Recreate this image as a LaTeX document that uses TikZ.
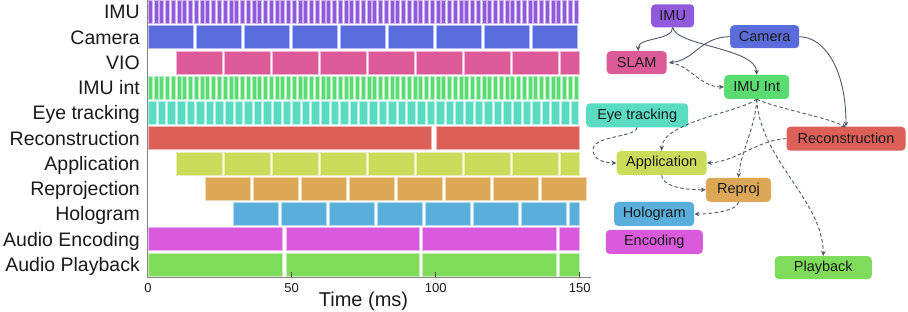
\documentclass[tikz,border=0pt]{standalone}
\usepackage{fontspec}
\setmainfont{Liberation Sans}
\usetikzlibrary{arrows.meta}
\definecolor{cimu}{HTML}{9159DB}
\definecolor{ccam}{HTML}{5A6BDB}
\definecolor{cvio}{HTML}{DC5A98}
\definecolor{cimuint}{HTML}{5ADC72}
\definecolor{ceye}{HTML}{5ADCC2}
\definecolor{crec}{HTML}{DC5F58}
\definecolor{capp}{HTML}{CBDC5A}
\definecolor{crep}{HTML}{DDA758}
\definecolor{chol}{HTML}{5AAEDC}
\definecolor{cenc}{HTML}{D95ADC}
\definecolor{cply}{HTML}{7EDC5A}
\definecolor{txt}{HTML}{1A1A1A}
\definecolor{edgec}{HTML}{4B5A6E}
\definecolor{axisc}{HTML}{858585}
\tikzset{
  tbar/.style={fill=#1, draw=#1!45!white, line width=0.7pt},
  gnode/.style={fill=#1, rounded corners=4pt, inner sep=0pt, font=\fontsize{14.5}{16}\selectfont, text=txt},
  edge/.style={draw=edgec, line width=0.9pt, -{Stealth[length=5pt,width=4.5pt]}},
  dedge/.style={edge, dash pattern=on 3.5pt off 2.5pt},
  rowlab/.style={anchor=base east, font=\fontsize{19.5}{20}\selectfont, text=txt, inner sep=0pt},
  ticklab/.style={anchor=base, font=\fontsize{13}{14}\selectfont, text=txt, inner sep=0pt},
}
\newcommand\rowbars[7]{%
  \foreach \k in {0,...,#6}{
    \pgfmathsetmacro\xa{#3+\k*#4}
    \pgfmathsetmacro\xb{min(\xa+#5,#7)}
    \pgfmathsetmacro\ya{0.5+25.25*#1}
    \draw[tbar=#2] (\xa,\ya) rectangle (\xb,\ya+23);
  }}
\newcommand\onebar[4]{% row, color, x1, x2
  \pgfmathsetmacro\ya{0.5+25.25*#1}
  \draw[tbar=#2] (#3,\ya) rectangle (#4,\ya+23);}
\begin{document}
\begin{tikzpicture}[x=1pt,y=-1pt]
\useasboundingbox (0,0) rectangle (908,312);
\fill[white] (0,0) rectangle (908,312);

% ---- chart bars
\rowbars{0}{cimu}{148.3}{5.754}{4.0}{74}{579}
\rowbars{1}{ccam}{148.3}{48}{45.5}{8}{579}
\rowbars{2}{cvio}{176.7}{48}{45.5}{8}{579}
\rowbars{3}{cimuint}{148.3}{5.754}{4.0}{74}{579}
\rowbars{4}{ceye}{148.6}{9.6}{7.6}{44}{579}
\onebar{5}{crec}{148.3}{431.7}
\onebar{5}{crec}{436}{579}
\rowbars{6}{capp}{176.7}{48}{45.5}{8}{579}
\rowbars{7}{crep}{205.3}{48}{45.5}{7}{589}
\rowbars{8}{chol}{233.3}{48}{45.5}{7}{579}
\foreach \r/\c in {9/cenc,10/cply}{
  \onebar{\r}{\c}{148.3}{282.3}
  \onebar{\r}{\c}{286}{419}
  \onebar{\r}{\c}{422.7}{556.3}
  \onebar{\r}{\c}{559.3}{579}
}

% ---- axes
\draw[axisc, line width=1.5pt] (147.5,0) -- (147.5,277.5);
\draw[axisc, line width=1.5pt] (146.8,277.5) -- (591,277.5);
\foreach \x in {291.7,435.7,579.7}{
  \draw[txt!80, line width=0.8pt] (\x,272.5) -- (\x,277.5);
}
\node[ticklab] (t0) at (148,292.5) {0};
\node[ticklab] (t50) at (291.7,292.5) {50};
\node[ticklab] (t100) at (435.7,292.5) {100};
\node[ticklab] (t150) at (579.7,292.5) {150};
\node[anchor=base, font=\fontsize{20}{22}\selectfont, text=txt, inner sep=0pt] (xlab) at (363.5,306.5) {Time (ms)};

% ---- row labels
\foreach \i/\t in {0/IMU,1/Camera,2/VIO,3/IMU int,4/Eye tracking,5/Reconstruction,6/Application,7/Reprojection,8/Hologram,9/Audio Encoding,10/Audio Playback}{
  \node[rowlab] (lab\i) at (140,{19+25.25*\i}) {\t};
}

% ---- graph nodes
\node[gnode=cimu, minimum width=43pt, minimum height=23pt] (imu) at (672.7,15.8) {IMU};
\node[gnode=ccam, minimum width=69pt, minimum height=23pt] (cam) at (764.7,36.7) {Camera};
\node[gnode=cvio, minimum width=60pt, minimum height=23pt] (slam) at (636.7,62.7) {SLAM};
\node[gnode=cimuint, minimum width=65pt, minimum height=24pt] (imuint) at (756.7,87) {IMU Int};
\node[gnode=ceye, minimum width=102pt, minimum height=24pt] (eye) at (637.2,115.3) {Eye tracking};
\node[gnode=crec, minimum width=119pt, minimum height=24pt] (rec) at (846,138.7) {Reconstruction};
\node[gnode=capp, minimum width=90pt, minimum height=24pt] (app) at (661.7,163) {Application};
\node[gnode=crep, minimum width=65pt, minimum height=24pt] (rep) at (738.5,189.8) {Reproj};
\node[gnode=chol, minimum width=80pt, minimum height=24pt] (holo) at (654.2,214) {Hologram};
\node[gnode=cenc, minimum width=97pt, minimum height=24pt] (enc) at (654.3,242) {Encoding};
\node[gnode=cply, minimum width=97pt, minimum height=23pt] (play) at (823.3,267.7) {Playback};

% ---- solid edges
\draw[edge] (imu.south) .. controls (672.7,41) and (638,37) .. ([xshift=1.5pt]slam.north);
\draw[edge] (imu.south) .. controls (676,46) and (756,48) .. (imuint.north);
\draw[edge] (cam.west) .. controls (700,37) and (695,60) .. ([xshift=2pt]slam.east);
\draw[edge] (cam.east) .. controls (825,37) and (846,70) .. (rec.north);

% ---- dashed edges
\draw[dedge] ([xshift=3pt]slam.east) .. controls (690,65) and (700,87) .. (imuint.west);
\draw[dedge] (imuint.south) .. controls (775,108) and (830,118) .. ([yshift=-1pt]rec.north);
\draw[dedge] (imuint.south) .. controls (740,112) and (662,122) .. (app.north);
\draw[dedge] (imuint.south) .. controls (756,125) and (740,155) .. (rep.north);
\draw[dedge] (imuint.south) .. controls (760,160) and (823,200) .. (play.north);
\draw[dedge] (rec.west) .. controls (760,139) and (735,162) .. (app.east);
\draw[dedge] (eye.south) .. controls (635,138) and (593,135) .. (593,150)
  .. controls (593,160) and (605,163) .. (app.west);
\draw[dedge] (app.south) .. controls (662,185) and (680,190) .. (rep.west);
\draw[dedge] (rep.south) .. controls (738,210) and (715,214) .. (holo.east);
\end{tikzpicture}
\end{document}
